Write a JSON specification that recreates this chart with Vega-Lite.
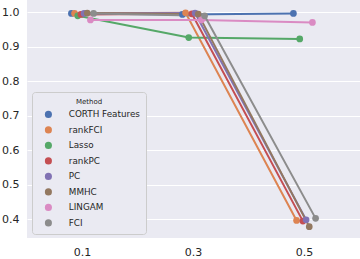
{
  "$schema": "https://vega.github.io/schema/vega-lite/v6.json",
  "width": 333,
  "height": 238,
  "autosize": {"type": "none"},
  "padding": {"left": 27, "top": 0, "right": 0, "bottom": 21},
  "background": "white",
  "config": {
    "view": {"fill": "#EAEAF2", "stroke": null},
    "font": "DejaVu Sans",
    "axis": {"domain": false, "ticks": false, "labelColor": "#262626", "labelFontSize": 11, "labelPadding": 8, "gridColor": "white", "gridWidth": 1, "title": null}
  },
  "data": {
    "values": [
      {"p": "0.1", "Method": "CORTH Features", "v": 0.997},
      {"p": "0.3", "Method": "CORTH Features", "v": 0.994},
      {"p": "0.5", "Method": "CORTH Features", "v": 0.997},
      {"p": "0.1", "Method": "rankFCI", "v": 0.997},
      {"p": "0.3", "Method": "rankFCI", "v": 0.999},
      {"p": "0.5", "Method": "rankFCI", "v": 0.396},
      {"p": "0.1", "Method": "Lasso", "v": 0.99},
      {"p": "0.3", "Method": "Lasso", "v": 0.927},
      {"p": "0.5", "Method": "Lasso", "v": 0.923},
      {"p": "0.1", "Method": "rankPC", "v": 0.994},
      {"p": "0.3", "Method": "rankPC", "v": 0.996},
      {"p": "0.5", "Method": "rankPC", "v": 0.394},
      {"p": "0.1", "Method": "PC", "v": 0.997},
      {"p": "0.3", "Method": "PC", "v": 0.998},
      {"p": "0.5", "Method": "PC", "v": 0.398},
      {"p": "0.1", "Method": "MMHC", "v": 0.998},
      {"p": "0.3", "Method": "MMHC", "v": 0.995},
      {"p": "0.5", "Method": "MMHC", "v": 0.378},
      {"p": "0.1", "Method": "LINGAM", "v": 0.978},
      {"p": "0.3", "Method": "LINGAM", "v": 0.978},
      {"p": "0.5", "Method": "LINGAM", "v": 0.971},
      {"p": "0.1", "Method": "FCI", "v": 0.997},
      {"p": "0.3", "Method": "FCI", "v": 0.99},
      {"p": "0.5", "Method": "FCI", "v": 0.402}
    ]
  },
  "encoding": {
    "x": {"field": "p", "type": "ordinal", "scale": {"paddingInner": 0.8, "paddingOuter": 0.4}, "axis": {"labelAngle": 0, "grid": false}},
    "xOffset": {"field": "Method", "type": "nominal", "sort": ["CORTH Features", "rankFCI", "Lasso", "rankPC", "PC", "MMHC", "LINGAM", "FCI"], "scale": {"type": "point", "padding": 0}},
    "y": {"field": "v", "type": "quantitative", "scale": {"domain": [0.345, 1.036], "nice": false, "zero": false}, "axis": {"values": [0.4, 0.5, 0.6, 0.7, 0.8, 0.9, 1.0], "format": ".1f", "grid": true}},
    "color": {
      "field": "Method", "type": "nominal",
      "sort": ["CORTH Features", "rankFCI", "Lasso", "rankPC", "PC", "MMHC", "LINGAM", "FCI"],
      "scale": {"domain": ["CORTH Features", "rankFCI", "Lasso", "rankPC", "PC", "MMHC", "LINGAM", "FCI"], "range": ["#4C72B0", "#DD8452", "#55A868", "#C44E52", "#8172B3", "#937860", "#DA8BC3", "#8C8C8C"]},
      "legend": {
        "orient": "none", "legendX": 5, "legendY": 92,
        "title": "Method", "titleFontSize": 7, "titleFontWeight": "normal", "titleColor": "#262626", "titleAnchor": "middle", "titlePadding": 5,
        "labelFontSize": 8.8, "labelColor": "#262626", "labelOffset": 16,
        "symbolType": "circle", "symbolSize": 50, "symbolStrokeWidth": 0, "symbolOpacity": 1, "symbolOffset": 6,
        "rowPadding": 5.5, "padding": 6,
        "fillColor": "#EAEAF2", "strokeColor": "#CCCCCC", "cornerRadius": 3
      }
    }
  },
  "layer": [
    {"mark": {"type": "line", "strokeWidth": 2}},
    {"mark": {"type": "point", "filled": true, "size": 45, "opacity": 1}}
  ]
}
